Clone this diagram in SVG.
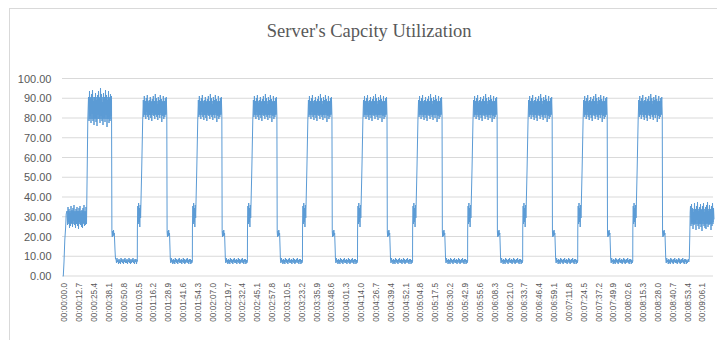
<svg xmlns="http://www.w3.org/2000/svg" xmlns:xlink="http://www.w3.org/1999/xlink" width="717" height="340" viewBox="0 0 717 340">
<style>
.frame{fill:#fff;stroke:#d9d9d9;stroke-width:1}
.grid{stroke:#d9d9d9;stroke-width:1;fill:none}
.ylab{font-family:"Liberation Sans",Arial,sans-serif;font-size:11px;fill:#595959;text-anchor:end}
.xlab{font-family:"Liberation Sans",Arial,sans-serif;font-size:8.2px;fill:#595959;text-anchor:end}
.title{font-family:"Liberation Serif","Times New Roman",serif;font-size:18.5px;fill:#595959;text-anchor:middle}
.series{fill:none;stroke:#5b9bd5;stroke-width:1;stroke-linejoin:round;stroke-linecap:round}
.core{fill:#5b9bd5;fill-opacity:0.85;stroke:none}
</style>
<defs>
<g id="cycle">
<rect class="core" x="0.3" y="101" width="23" height="14"/>
<path class="series" d="M-6,261 L-5.9,228 -5.5,206 -5.1,224 -4.7,203 -4.3,222 -3.9,208 -3.5,227 -3.1,205 -2.7,218 -1.6,170 -0.6,120 0,100 0.5,117 1,96 1.5,114 2,101 2.5,119 3,98 3.5,112 4,95 4.5,117 5,103 5.5,120 6,100 6.5,115 7,97 7.5,118 8,102 8.5,121 9,99 9.5,113 10,96 10.5,116 11,101 11.5,119 12,94 12.5,114 13,98 13.5,117 14,104 14.5,120 15,97 15.5,115 16,100 16.5,118 17,95 17.5,113 18,99 18.5,122 19,102 19.5,116 20,96 20.5,119 21,101 21.5,117 22,98 22.5,114 23,97 23.5,116 23.8,232 24.2,237 24.6,231 25,236 25.4,230 25.8,235 26.2,233 26.8,252 27,259 27.5,263 28,258 28.5,262 29,260 29.5,264 30,259 30.5,263 31,260 31.5,264 32,258 32.5,262 33,259 33.5,263 34,260 34.5,264 35,259 35.5,262 36,258 36.5,263 37,260 37.5,263 38,259 38.5,264 39,260 39.5,262 40,258 40.5,263 41,259 41.5,264 42,260 42.5,263 43,259 43.5,262 44,258 44.5,263 45,260 45.5,264 46,259 46.5,262 47,259 47.5,264 48,260 48.5,263 49,261"/>
</g>
</defs>
<rect class="frame" x="9.5" y="8.5" width="720" height="345"/>
<text class="title" x="369.2" y="36.5">Server's Capcity Utilization</text>
<g id="gridlines">
<path class="grid" d="M62,276H713M62,256.25H713M62,236.5H713M62,216.75H713M62,197H713M62,177.25H713M62,157.5H713M62,137.75H713M62,118H713M62,98.25H713M62,78.5H713"/>
</g>
<g id="y-axis">
<text class="ylab" x="51.5" y="280">0.00</text>
<text class="ylab" x="51.5" y="260.25">10.00</text>
<text class="ylab" x="51.5" y="240.5">20.00</text>
<text class="ylab" x="51.5" y="220.75">30.00</text>
<text class="ylab" x="51.5" y="201">40.00</text>
<text class="ylab" x="51.5" y="181.25">50.00</text>
<text class="ylab" x="51.5" y="161.5">60.00</text>
<text class="ylab" x="51.5" y="141.75">70.00</text>
<text class="ylab" x="51.5" y="122">80.00</text>
<text class="ylab" x="51.5" y="102.25">90.00</text>
<text class="ylab" x="51.5" y="82.5">100.00</text>
</g>
<g id="x-axis">
<text class="xlab" transform="translate(67.3,283) rotate(-90)">00:00:00.0</text>
<text class="xlab" transform="translate(82.14,283) rotate(-90)">00:00:12.7</text>
<text class="xlab" transform="translate(96.98,283) rotate(-90)">00:00:25.4</text>
<text class="xlab" transform="translate(111.82,283) rotate(-90)">00:00:38.1</text>
<text class="xlab" transform="translate(126.66,283) rotate(-90)">00:00:50.8</text>
<text class="xlab" transform="translate(141.5,283) rotate(-90)">00:01:03.5</text>
<text class="xlab" transform="translate(156.34,283) rotate(-90)">00:01:16.2</text>
<text class="xlab" transform="translate(171.18,283) rotate(-90)">00:01:28.9</text>
<text class="xlab" transform="translate(186.02,283) rotate(-90)">00:01:41.6</text>
<text class="xlab" transform="translate(200.86,283) rotate(-90)">00:01:54.3</text>
<text class="xlab" transform="translate(215.7,283) rotate(-90)">00:02:07.0</text>
<text class="xlab" transform="translate(230.54,283) rotate(-90)">00:02:19.7</text>
<text class="xlab" transform="translate(245.38,283) rotate(-90)">00:02:32.4</text>
<text class="xlab" transform="translate(260.22,283) rotate(-90)">00:02:45.1</text>
<text class="xlab" transform="translate(275.06,283) rotate(-90)">00:02:57.8</text>
<text class="xlab" transform="translate(289.9,283) rotate(-90)">00:03:10.5</text>
<text class="xlab" transform="translate(304.74,283) rotate(-90)">00:03:23.2</text>
<text class="xlab" transform="translate(319.58,283) rotate(-90)">00:03:35.9</text>
<text class="xlab" transform="translate(334.42,283) rotate(-90)">00:03:48.6</text>
<text class="xlab" transform="translate(349.26,283) rotate(-90)">00:04:01.3</text>
<text class="xlab" transform="translate(364.1,283) rotate(-90)">00:04:14.0</text>
<text class="xlab" transform="translate(378.94,283) rotate(-90)">00:04:26.7</text>
<text class="xlab" transform="translate(393.78,283) rotate(-90)">00:04:39.4</text>
<text class="xlab" transform="translate(408.62,283) rotate(-90)">00:04:52.1</text>
<text class="xlab" transform="translate(423.46,283) rotate(-90)">00:05:04.8</text>
<text class="xlab" transform="translate(438.3,283) rotate(-90)">00:05:17.5</text>
<text class="xlab" transform="translate(453.14,283) rotate(-90)">00:05:30.2</text>
<text class="xlab" transform="translate(467.98,283) rotate(-90)">00:05:42.9</text>
<text class="xlab" transform="translate(482.82,283) rotate(-90)">00:05:55.6</text>
<text class="xlab" transform="translate(497.66,283) rotate(-90)">00:06:08.3</text>
<text class="xlab" transform="translate(512.5,283) rotate(-90)">00:06:21.0</text>
<text class="xlab" transform="translate(527.34,283) rotate(-90)">00:06:33.7</text>
<text class="xlab" transform="translate(542.18,283) rotate(-90)">00:06:46.4</text>
<text class="xlab" transform="translate(557.02,283) rotate(-90)">00:06:59.1</text>
<text class="xlab" transform="translate(571.86,283) rotate(-90)">00:07:11.8</text>
<text class="xlab" transform="translate(586.7,283) rotate(-90)">00:07:24.5</text>
<text class="xlab" transform="translate(601.54,283) rotate(-90)">00:07:37.2</text>
<text class="xlab" transform="translate(616.38,283) rotate(-90)">00:07:49.9</text>
<text class="xlab" transform="translate(631.22,283) rotate(-90)">00:08:02.6</text>
<text class="xlab" transform="translate(646.06,283) rotate(-90)">00:08:15.3</text>
<text class="xlab" transform="translate(660.9,283) rotate(-90)">00:08:28.0</text>
<text class="xlab" transform="translate(675.74,283) rotate(-90)">00:08:40.7</text>
<text class="xlab" transform="translate(690.58,283) rotate(-90)">00:08:53.4</text>
<text class="xlab" transform="translate(705.42,283) rotate(-90)">00:09:06.1</text>
</g>
<g id="series">
<rect class="core" x="67.5" y="211" width="19" height="13"/>
<rect class="core" x="88.8" y="97" width="22.5" height="22"/>
<rect class="core" x="690.8" y="209" width="23" height="15"/>
<path class="series" d="M63.3,276 L64,262 64.8,240 65.6,228 66.2,214 67,211 67.5,225 68,207 68.5,222 69,209 69.5,228 70,213 70.5,226 71,206 71.5,223 72,210 72.5,227 73,208 73.5,221 74,205 74.5,225 75,212 75.5,228 76,209 76.5,224 77,207 77.5,226 78,211 78.5,229 79,208 79.5,222 80,206 80.5,225 81,213 81.5,227 82,210 82.5,228 83,208 83.5,223 84,205 84.5,226 85,212 85.5,225 86,207 86.5,224 87.2,170 87.8,120 88.5,97 89,121 89.5,91 90,116 90.5,98 91,123 91.5,94 92,114 92.5,90 93,121 93.5,101 94,125 94.5,97 95,118 95.5,93 96,122 96.5,100 97,126 97.5,95 98,115 98.5,91 99,119 99.5,98 100,123 100.5,88 101,116 101.5,94 102,121 102.5,102 103,125 103.5,93 104,118 104.5,97 105,122 105.5,90 106,115 106.5,95 107,127 107.5,100 108,119 108.5,91 109,123 109.5,98 110,121 110.5,94 111,116 111.5,96 111.9,232 112.3,237 112.7,231 113.1,236 113.5,230 113.9,235 114.3,233 115,250 115.5,259 116,259 116.5,263 117,258 117.5,262 118,260 118.5,264 119,259 119.5,263 120,260 120.5,264 121,258 121.5,262 122,259 122.5,263 123,260 123.5,264 124,259 124.5,262 125,258 125.5,263 126,260 126.5,263 127,259 127.5,264 128,260 128.5,262 129,258 129.5,263 130,259 130.5,264 131,260 131.5,263 132,259 132.5,262 133,258 133.5,263 134,260 134.5,264 135,259 135.5,262 136,259 136.5,264 137,260 137.3,261"/>
<use xlink:href="#cycle" transform="translate(143.3,0)"/>
<use xlink:href="#cycle" transform="translate(198.35,0)"/>
<use xlink:href="#cycle" transform="translate(253.4,0)"/>
<use xlink:href="#cycle" transform="translate(308.45,0)"/>
<use xlink:href="#cycle" transform="translate(363.5,0)"/>
<use xlink:href="#cycle" transform="translate(418.55,0)"/>
<use xlink:href="#cycle" transform="translate(473.6,0)"/>
<use xlink:href="#cycle" transform="translate(528.65,0)"/>
<use xlink:href="#cycle" transform="translate(583.7,0)"/>
<use xlink:href="#cycle" transform="translate(638.75,0)"/>
<path class="series" d="M687.75,261 L688.3,259 688.8,262 689.3,258 689.8,235 690.2,212 690.5,206 691,226 691.5,204 692,222 692.5,208 693,229 693.5,212 694,225 694.5,203 695,223 695.5,209 696,230 696.5,206 697,220 697.5,202 698,226 698.5,211 699,229 699.5,207 700,224 700.5,204 701,227 701.5,210 702,231 702.5,206 703,221 703.5,203 704,226 704.5,212 705,228 705.5,207 706,229 706.5,205 707,223 707.5,202 708,227 708.5,211 709,225 709.5,205 710,224 710.5,209 711,230 711.5,206 712,226 712.5,203 713,222 713.5,208 714,219"/>
</g>
</svg>
